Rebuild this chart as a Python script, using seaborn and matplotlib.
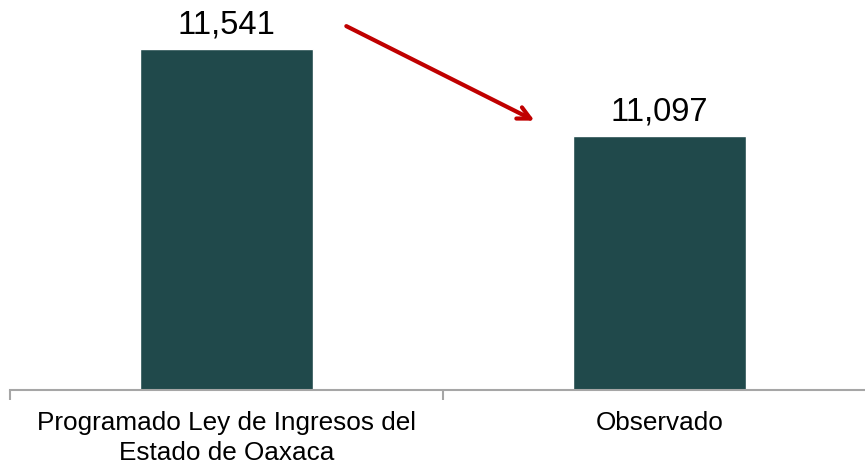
import matplotlib
matplotlib.use("Agg")
import matplotlib.pyplot as plt
import seaborn as sns
import pandas as pd

categories = ["Programado Ley de Ingresos del\nEstado de Oaxaca", "Observado"]
values = [11541, 11097]
value_labels = ["11,541", "11,097"]

sns.set_style("white")
plt.rcParams['font.family'] = ['Liberation Sans', 'DejaVu Sans']

df = pd.DataFrame({"cat": categories, "val": values})

fig = plt.figure(figsize=(8.65, 4.66), dpi=100)
ax = fig.add_axes([10/865, 76/466, 866/865, 390/466])
sns.barplot(data=df, x="cat", y="val", color="#20494B", width=0.4, saturation=1, ax=ax)
ax.set_xlim(-0.5, 1.5)
ax.set_ylim(9800, 11790)
ax.set_xlabel("")
ax.set_ylabel("")
ax.set_yticks([])
ax.set_xticks([-0.5, 0.5, 1.5], minor=False)
ax.set_xticklabels([])
ax.set_xticks([0, 1], minor=True)
ax.set_xticklabels(categories, minor=True, fontsize=18.8, linespacing=1.35,
                   color="black", multialignment="center")
ax.tick_params(axis="x", which="major", length=7, width=1.5, color="#A6A6A6", direction="out", bottom=True)
ax.tick_params(axis="x", which="minor", length=0, pad=15)
for s in ["top", "right", "left"]:
    ax.spines[s].set_visible(False)
ax.spines["bottom"].set_color("#A6A6A6")
ax.spines["bottom"].set_linewidth(1.5)

for i, (v, lab) in enumerate(zip(values, value_labels)):
    ax.annotate(lab, (i, v), xytext=(0, 6), textcoords="offset points",
                ha="center", va="bottom", fontsize=23.5, color="black")

ax.annotate("", xy=(0.717, 11168), xytext=(0.271, 11663),
            arrowprops=dict(arrowstyle="->,head_length=0.9,head_width=0.45", color="#C00000", lw=3))

fig.savefig("out.png", dpi=100)
